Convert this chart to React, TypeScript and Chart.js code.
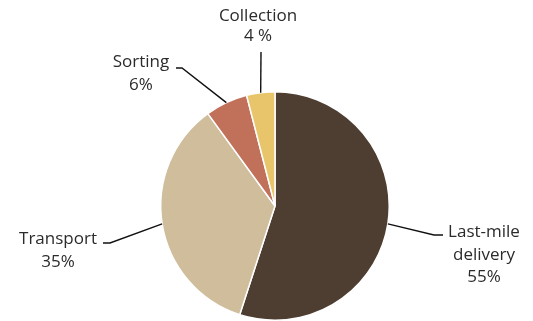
import { useEffect, useRef } from "react";
import { Chart, registerables } from "chart.js";

Chart.register(...registerables);

const categories = ["Last-mile delivery", "Transport", "Sorting", "Collection"];
const shares = [55, 35, 6, 4];
const labelTexts = [
  ["Last-mile", "delivery", "55%"],
  ["Transport", "35%"],
  ["Sorting", "6%"],
  ["Collection", "4 %"],
];
const sliceColors = ["#4e3e32", "#cfbd9b", "#c1705a", "#e8c56a"];

// leader line / label layout (pixels)
const labelLayout = [
  { elbow: [434, 235], end: [443, 235], x: 484, baselines: [237, 260, 282] },
  { elbow: [110, 243], end: [103, 243], x: 58, baselines: [244, 267] },
  { elbow: [182, 68], end: [176, 68], x: 141, baselines: [67, 90] },
  { elbow: [261, 52], end: [261, 52], x: 258, baselines: [21, 41] },
];

const leaderPlugin = {
  id: "leaders",
  afterDraw(chart: any) {
    const ctx = chart.ctx;
    const meta = chart.getDatasetMeta(0);
    ctx.save();
    meta.data.forEach((arc: any, i: number) => {
      const p = arc.getProps(["x", "y", "startAngle", "endAngle", "outerRadius"], true);
      const mid = (p.startAngle + p.endAngle) / 2;
      const sx = p.x + Math.cos(mid) * p.outerRadius;
      const sy = p.y + Math.sin(mid) * p.outerRadius;
      const L = labelLayout[i];
      ctx.beginPath();
      ctx.strokeStyle = "#111";
      ctx.lineWidth = 1.4;
      ctx.moveTo(sx, sy);
      ctx.lineTo(L.elbow[0], L.elbow[1]);
      ctx.lineTo(L.end[0], L.end[1]);
      ctx.stroke();
      ctx.fillStyle = "#2b2b2b";
      ctx.font = "17px 'Open Sans'";
      ctx.textAlign = "center";
      ctx.textBaseline = "alphabetic";
      labelTexts[i].forEach((t, j) => {
        ctx.fillText(t, L.x, L.baselines[j]);
      });
    });
    ctx.restore();
  },
};

export default function App() {
  const ref = useRef<HTMLCanvasElement>(null);
  useEffect(() => {
    if (!ref.current) return;
    const chart = new Chart(ref.current, {
      type: "pie",
      data: {
        labels: categories,
        datasets: [
          {
            data: shares,
            backgroundColor: sliceColors,
            borderColor: "#ffffff",
            borderWidth: 1.5,
          },
        ],
      },
      options: {
        animation: false,
        responsive: false,
        layout: { padding: { top: 91, bottom: 0, left: 17, right: 0 } },
        plugins: {
          legend: { display: false },
          tooltip: { enabled: false },
        },
      },
      plugins: [leaderPlugin],
    });
    return () => chart.destroy();
  }, []);
  return (
    <div style={{ position: "fixed", left: 0, top: 0, width: 533, height: 321, background: "#fff" }}>
      <canvas ref={ref} width={533} height={321} style={{ width: 533, height: 321 }} />
    </div>
  );
}
